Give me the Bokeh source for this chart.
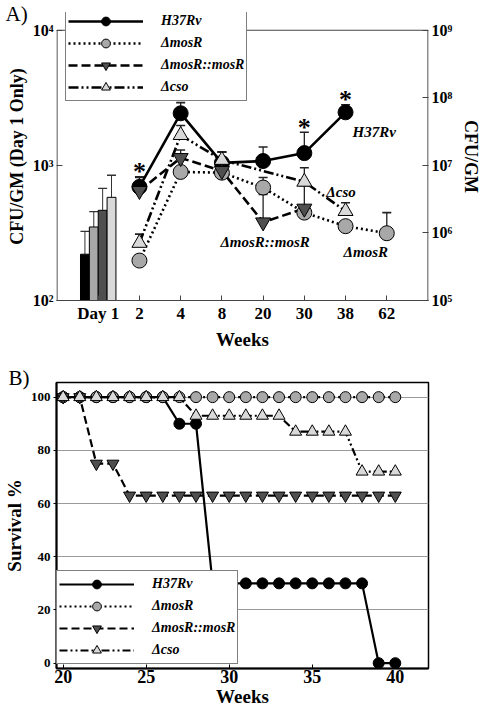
import math
from bokeh.plotting import figure
from bokeh.models import (Range1d, LogScale, LogAxis, FixedTicker, CustomJSTickFormatter,
                          Legend, LegendItem)
from bokeh.layouts import column
from bokeh.embed import file_html
from bokeh.resources import INLINE
from bokeh.core.properties import value

FONT = "Liberation Serif"

# ---------------- Panel A data ----------------
week_labels = ["Day 1", "2", "4", "8", "20", "30", "38", "62"]
strains = ["H37Rv", "\u0394mosR", "\u0394mosR::mosR", "\u0394cso"]

day1_cfu = [220, 350, 465, 580]
day1_err_top = [325, 455, 675, 845]

h37_weeks = ["2", "4", "8", "20", "30", "38"]
h37_cfu = [4.8e6, 5.9e7, 1.09e7, 1.16e7, 1.52e7, 6.1e7]
h37_err = [6.8e6, 8.5e7, 1.58e7, 1.87e7, 3.1e7, 7.9e7]

mosR_weeks = ["2", "4", "8", "20", "30", "38", "62"]
mosR_cfu = [3.9e5, 8.0e6, 7.8e6, 4.7e6, 2.0e6, 1.26e6, 9.9e5]
mosR_err = [4.4e5, 9.0e6, 1.0e7, 6.6e6, 2.2e6, 1.4e6, 2.0e6]

comp_weeks = ["2", "4", "8", "20", "30"]
comp_cfu = [4.2e6, 1.29e7, 8.3e6, 1.44e6, 2.3e6]
comp_err = [6.6e6, 1.69e7, 1.58e7, 3.7e6, 5.0e6]

cso_weeks = ["2", "4", "8", "30", "38"]
cso_cfu = [7.1e5, 2.8e7, 1.2e7, 5.7e6, 2.1e6]
cso_err = [9.6e5, 3.9e7, 1.58e7, 9.2e6, 2.8e6]

sig_weeks = ["2", "30", "38"]          # asterisks above H37Rv

left_ticks = [100, 1000, 10000]
right_ticks = [1e5, 1e6, 1e7, 1e8, 1e9]

# ---------------- Panel B data ----------------
surv_weeks = [20, 21, 22, 23, 24, 25, 26, 27, 28, 29, 30, 31, 32, 33, 34, 35, 36, 37, 38, 39, 40]
surv_h37 = [100, 100, 100, 100, 100, 100, 100, 90, 90, 30, 30, 30, 30, 30, 30, 30, 30, 30, 30, 0, 0]
surv_mosR = [100, 100, 100, 100, 100, 100, 100, 100, 100, 100, 100, 100, 100, 100, 100, 100, 100, 100, 100, 100, 100]
surv_comp = [100, 100, 75, 75, 63, 63, 63, 63, 63, 63, 63, 63, 63, 63, 63, 63, 63, 63, 63, 63, 63]
surv_cso = [100, 100, 100, 100, 100, 100, 100, 100, 93, 93, 93, 93, 93, 93, 87, 87, 87, 87, 72, 72, 72]

# ---------------- styles ----------------
fills = ["#000000", "#a8a8a8", "#4f4f4f", "#d9d9d9"]
markers = ["circle", "circle", "inverted_triangle", "triangle"]
dashes = ["solid", "2 3", "9 4", "10 3 2 3 2 3"]

pos = {lab: i for i, lab in enumerate(week_labels)}

sup_fmt = CustomJSTickFormatter(code="""
const sup = {"0":"\u2070","1":"\u00b9","2":"\u00b2","3":"\u00b3","4":"\u2074","5":"\u2075","6":"\u2076","7":"\u2077","8":"\u2078","9":"\u2079"};
const e = String(Math.round(Math.log(tick)/Math.LN10));
return "10" + e.split("").map(c => sup[c]).join("");
""")


def style_axis(ax, tick_size, label_size, tin, tout, color):
    ax.major_label_text_font = FONT
    ax.major_label_text_font_style = "bold"
    ax.major_label_text_font_size = tick_size
    ax.major_label_text_color = "black"
    ax.axis_label_text_font = FONT
    ax.axis_label_text_font_style = "bold"
    ax.axis_label_text_font_size = label_size
    ax.axis_label_text_color = "black"
    ax.major_tick_in = tin
    ax.major_tick_out = tout
    ax.minor_tick_line_color = None
    ax.axis_line_color = color
    ax.major_tick_line_color = color
    ax.major_label_standoff = 3
    ax.axis_label_standoff = 3


def style_title(p, off, standoff):
    p.title.text_font = FONT
    p.title.text_font_style = "normal"
    p.title.text_font_size = "21px"
    p.title.text_color = "black"
    p.title.align = "left"
    p.title.offset = off
    p.title.standoff = 0
    try:
        p.title.standoff = standoff
    except Exception:
        pass


W = 484
GH, SP, PAD = 22, 0, 2
leg_h = 2 * PAD + 4 * GH + 3 * SP


def make_legend(lrs, mrs, loc):
    items = [LegendItem(label=strains[k], renderers=[lrs[k], mrs[k]]) for k in range(4)]
    return Legend(items=items, location=loc, glyph_width=75, glyph_height=GH, spacing=SP,
                  padding=PAD, margin=0, label_standoff=18, label_height=19,
                  label_text_font=FONT, label_text_font_style="bold italic",
                  label_text_font_size="14px", label_text_color="black",
                  border_line_color="black", border_line_width=1,
                  background_fill_color="white", background_fill_alpha=1.0)


# ================= Panel A =================
H1 = 352
L1, R1, T1, B1 = 52, 52, 12, 48
FH1 = H1 - T1 - B1
EXT = 18                                  # frame space above the 10^4 / 10^9 line (for legend)
frac = FH1 / (FH1 - EXT)
lo_l, hi_l = math.log10(left_ticks[0]), math.log10(left_ticks[-1])
lo_r, hi_r = math.log10(right_ticks[0]), math.log10(right_ticks[-1])
ytop_l = 10 ** (lo_l + (hi_l - lo_l) * frac)
ytop_r = 10 ** (lo_r + (hi_r - lo_r) * frac)

p1 = figure(width=W, height=H1, x_range=Range1d(-1.012, 8.012), y_range=Range1d(left_ticks[0], ytop_l),
            y_axis_type="log", output_backend="svg", toolbar_location=None, title="A)",
            min_border_left=L1, min_border_right=R1, min_border_top=T1, min_border_bottom=B1)
style_title(p1, -L1 + 1, -26)
p1.extra_y_ranges = {"cfu": Range1d(right_ticks[0], ytop_r)}
p1.extra_y_scales = {"cfu": LogScale()}
raxis = LogAxis(y_range_name="cfu")
p1.add_layout(raxis, "right")
p1.xgrid.visible = False
p1.ygrid.visible = False
p1.outline_line_color = None

laxis = p1.left[0]
laxis.ticker = FixedTicker(ticks=left_ticks)
laxis.formatter = sup_fmt
laxis.axis_label = "CFU/GM (Day 1 Only)"
raxis.ticker = FixedTicker(ticks=right_ticks)
raxis.formatter = sup_fmt
raxis.axis_label = "CFU/GM"
p1.xaxis.ticker = FixedTicker(ticks=list(range(len(week_labels))))
p1.xaxis.major_label_overrides = {i: lab for i, lab in enumerate(week_labels)}
p1.xaxis.axis_label = "Weeks"
for ax in [laxis, raxis]:
    style_axis(ax, "16px", "18px", 6, 0, "#444444")
    ax.axis_line_color = None
style_axis(p1.xaxis[0], "17px", "19px", 5, 0, "#444444")
try:
    raxis.axis_label_orientation = "vertical"
    raxis.axis_label_standoff = 6
except Exception:
    pass

# box lines of panel A (left, right, top) drawn at the range limits
xl, xr = -1, len(week_labels)
p1.segment(x0=[xl, xr, xl], y0=[left_ticks[0], left_ticks[0], left_ticks[-1]],
           x1=[xl, xr, xr], y1=[left_ticks[-1], left_ticks[-1], left_ticks[-1]],
           line_color="#444444", line_width=1.2)

# Day 1 bars (left axis)
bar_w = 0.215
bar_x = [pos["Day 1"] + (i - 1.5) * bar_w for i in range(len(day1_cfu))]
p1.segment(x0=bar_x, y0=day1_cfu, x1=bar_x, y1=day1_err_top, line_color="#333333", line_width=1)
p1.scatter(x=bar_x, y=day1_err_top, marker="dash", size=9, line_color="#333333", line_width=1.3)
p1.vbar(x=bar_x, top=day1_cfu, bottom=left_ticks[0], width=bar_w, fill_color=fills,
        line_color="black", line_width=1)

series = [
    (h37_weeks, h37_cfu, h37_err),
    (mosR_weeks, mosR_cfu, mosR_err),
    (comp_weeks, comp_cfu, comp_err),
    (cso_weeks, cso_cfu, cso_err),
]
for wk, vals, errs in series:
    xs = [pos[w] for w in wk]
    p1.segment(x0=xs, y0=vals, x1=xs, y1=errs, y_range_name="cfu", line_color="#222222", line_width=1.3)
    p1.scatter(x=xs, y=errs, marker="dash", size=9, line_color="#222222", line_width=1.6,
               y_range_name="cfu")
line_rs = []
for k, (wk, vals, errs) in enumerate(series):
    xs = [pos[w] for w in wk]
    line_rs.append(p1.line(x=xs, y=vals, line_color="black", line_width=2.6, line_dash=dashes[k],
                           y_range_name="cfu"))
mark_rs = []
for k, (wk, vals, errs) in enumerate(series):
    xs = [pos[w] for w in wk]
    mark_rs.append(p1.scatter(x=xs, y=vals, marker=markers[k], size=15, fill_color=fills[k],
                              line_color="black", line_width=1, y_range_name="cfu"))

# asterisks
sig_x = [pos[w] for w in sig_weeks]
sig_y = [h37_err[h37_weeks.index(w)] for w in sig_weeks]
p1.text(x=sig_x, y=sig_y, text=["*"] * len(sig_x), text_font=value(FONT), text_font_style="bold",
        text_font_size="26px", text_color="black", text_align="center",
        text_baseline="alphabetic", y_offset=-5, y_range_name="cfu")

# in-plot strain labels
lab_week = ["38", "62", "20", "30"]
lab_dx = [7, -21, 2, 22]
lab_dy = [20, 19, 20, 10]
lab_align = ["left", "center", "center", "left"]
for k, (wk, vals, errs) in enumerate(series):
    xi = wk.index(lab_week[k])
    p1.text(x=[pos[lab_week[k]]], y=[vals[xi]], text=[strains[k]], text_font=value(FONT),
            text_font_style="bold italic", text_font_size="15px", text_color="black",
            text_align=lab_align[k], text_baseline="middle", x_offset=lab_dx[k],
            y_offset=lab_dy[k], y_range_name="cfu")

p1.add_layout(make_legend(line_rs, mark_rs, (9, FH1 - 1 - leg_h)))

# ================= Panel B =================
H2 = 358
L2, R2, T2, B2 = 48, 28, 30, 42
p2 = figure(width=W, height=H2, x_range=Range1d(19.6, 42), y_range=Range1d(-2, 105.5),
            output_backend="svg", toolbar_location=None, title="B)",
            min_border_left=L2, min_border_right=R2, min_border_top=T2, min_border_bottom=B2)
style_title(p2, -L2, -14)
p2.xgrid.visible = False
p2.ygrid.ticker = FixedTicker(ticks=[20, 40, 60, 80, 100])
p2.ygrid.grid_line_color = "#9a9a9a"
p2.ygrid.grid_line_width = 1.2
p2.outline_line_color = "black"
p2.outline_line_width = 1.5
p2.xaxis.ticker = FixedTicker(ticks=[20, 25, 30, 35, 40])
p2.yaxis.ticker = FixedTicker(ticks=[0, 20, 40, 60, 80, 100])
p2.xaxis.axis_label = "Weeks"
p2.yaxis.axis_label = "Survival %"
style_axis(p2.xaxis[0], "18px", "19px", 4, 0, "black")
style_axis(p2.yaxis[0], "13px", "19px", 0, 3, "black")
p2.xaxis.major_label_standoff = 1
p2.xaxis.axis_label_standoff = 0
p2.xaxis.axis_line_width = 2
p2.yaxis.axis_line_width = 2

surv = [surv_h37, surv_mosR, surv_comp, surv_cso]
surv_dash = ["solid", "2 3", "8 4", "8 3 2 3 2 3"]
surv_size = [11, 11, 12, 12]
lr2, mr2 = [], []
for k in range(4):
    lr2.append(p2.line(x=surv_weeks, y=surv[k], line_color="black", line_width=2.2,
                       line_dash=surv_dash[k]))
    mr2.append(p2.scatter(x=surv_weeks, y=surv[k], marker=markers[k], size=surv_size[k],
                          fill_color=fills[k], line_color="black", line_width=1))

p2.add_layout(make_legend(lr2, mr2, (0, 4)))

layout = column(p1, p2)
open("out.html", "w", encoding="utf-8").write(file_html(layout, INLINE))
